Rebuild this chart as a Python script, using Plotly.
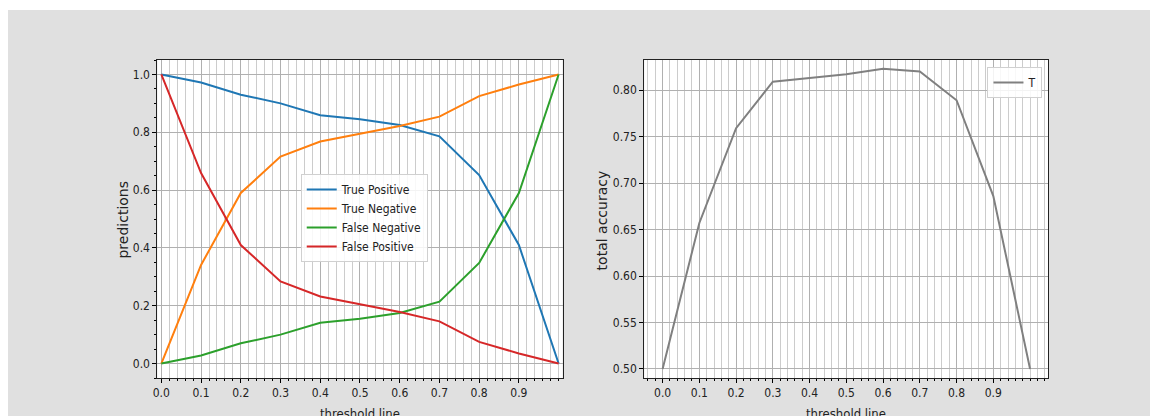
import plotly.graph_objects as go

# ---- data ----
thresholds = [0.0, 0.1, 0.2, 0.3, 0.4, 0.5, 0.6, 0.7, 0.8, 0.9, 1.0]
true_positive = [1.0, 0.972, 0.930, 0.900, 0.859, 0.845, 0.825, 0.786, 0.652, 0.410, 0.0]
true_negative = [0.0, 0.341, 0.590, 0.716, 0.768, 0.794, 0.822, 0.854, 0.925, 0.965, 1.0]
false_negative = [0.0, 0.028, 0.070, 0.100, 0.141, 0.155, 0.175, 0.214, 0.348, 0.590, 1.0]
false_positive = [1.0, 0.659, 0.410, 0.284, 0.232, 0.206, 0.178, 0.146, 0.075, 0.035, 0.0]
total_accuracy = [0.500, 0.657, 0.759, 0.809, 0.813, 0.817, 0.823, 0.820, 0.789, 0.686, 0.500]

x_tick_vals = [0.0, 0.1, 0.2, 0.3, 0.4, 0.5, 0.6, 0.7, 0.8, 0.9]
x_tick_text = ["0.0", "0.1", "0.2", "0.3", "0.4", "0.5", "0.6", "0.7", "0.8", "0.9"]
y1_tick_vals = [0.0, 0.2, 0.4, 0.6, 0.8, 1.0]
y1_tick_text = ["0.0", "0.2", "0.4", "0.6", "0.8", "1.0"]
y2_tick_vals = [0.50, 0.55, 0.60, 0.65, 0.70, 0.75, 0.80]
y2_tick_text = ["0.50", "0.55", "0.60", "0.65", "0.70", "0.75", "0.80"]

# figure sits inside the page body (8px left margin, 10px top margin)
OX, OY = 8, 10
W, H = 1142, 406
FONT = "DejaVu Sans Condensed, DejaVu Sans, sans-serif"
FONT_V = "DejaVu Sans, sans-serif"

def px_x(p):
    return (p - OX) / W

def px_y(p):
    return 1 - (p - OY) / H

fig = go.Figure()
series = [
    ("True Positive", true_positive, "#1f77b4"),
    ("True Negative", true_negative, "#ff7f0e"),
    ("False Negative", false_negative, "#2ca02c"),
    ("False Positive", false_positive, "#d62728"),
]
for name, vals, col in series:
    fig.add_trace(go.Scatter(x=thresholds, y=vals, mode="lines", name=name,
                             line=dict(color=col, width=2), xaxis="x", yaxis="y",
                             legend="legend"))
fig.add_trace(go.Scatter(x=thresholds, y=total_accuracy, mode="lines", name="T",
                         line=dict(color="#808080", width=2), xaxis="x2", yaxis="y2",
                         legend="legend2"))

common_x = dict(
    tickmode="array", tickvals=x_tick_vals, ticktext=x_tick_text,
    ticks="outside", ticklen=4, tickcolor="#000", tickwidth=1,
    showgrid=True, gridcolor="#b0b0b0", gridwidth=1,
    showline=True, linecolor="#222", linewidth=1, mirror=True, zeroline=False,
    tickfont=dict(family=FONT, size=12, color="#222"),
    minor=dict(tickmode="linear", tick0=0, dtick=0.02, ticks="outside", ticklen=2,
               tickcolor="#000", showgrid=True, gridcolor="#cccccc", gridwidth=1),
)
common_y = dict(
    tickmode="array", ticks="outside", ticklen=4, tickcolor="#000", tickwidth=1,
    showgrid=True, gridcolor="#b0b0b0", gridwidth=1,
    showline=True, linecolor="#222", linewidth=1, mirror=True, zeroline=False,
    tickfont=dict(family=FONT, size=12, color="#222"),
)

ydom = [px_y(378), px_y(60)]
fig.update_layout(
    width=W, height=H,
    margin=dict(l=0, r=0, t=0, b=0),
    paper_bgcolor="#e0e0e0", plot_bgcolor="#ffffff",
    font=dict(family=FONT, size=12, color="#222"),
    xaxis=dict(common_x, domain=[px_x(153), px_x(560)], range=[-0.01, 1.01], anchor="y"),
    yaxis=dict(common_y, domain=ydom, range=[-0.05, 1.05], anchor="x",
               tickvals=y1_tick_vals, ticktext=y1_tick_text,
               minor=dict(tickmode="linear", tick0=0, dtick=0.05, ticks="outside",
                          ticklen=2, tickcolor="#000", showgrid=False)),
    xaxis2=dict(common_x, domain=[px_x(642), px_x(1048)], range=[-0.05, 1.05], anchor="y2"),
    yaxis2=dict(common_y, domain=ydom, range=[0.4903, 0.8323], anchor="x2",
                tickvals=y2_tick_vals, ticktext=y2_tick_text),
    legend=dict(x=px_x(297), y=px_y(174), xanchor="left", yanchor="top",
                bgcolor="rgba(255,255,255,0.85)", bordercolor="#d0d0d0", borderwidth=1,
                font=dict(family=FONT, size=12, color="#222")),
    legend2=dict(x=px_x(1042), y=px_y(67), xanchor="right", yanchor="top",
                 bgcolor="rgba(255,255,255,0.85)", bordercolor="#d0d0d0", borderwidth=1,
                 font=dict(family=FONT, size=12, color="#222")),
    showlegend=True,
)

# axis titles
fig.add_annotation(text="predictions", x=px_x(118), y=px_y(220), xref="paper", yref="paper",
                   textangle=-90, showarrow=False, xanchor="center", yanchor="middle",
                   font=dict(family=FONT_V, size=14, color="#222"))
fig.add_annotation(text="total accuracy", x=px_x(600), y=px_y(220), xref="paper", yref="paper",
                   textangle=-90, showarrow=False, xanchor="center", yanchor="middle",
                   font=dict(family=FONT_V, size=14, color="#222"))
fig.add_annotation(text="threshold line", x=px_x(357), y=px_y(404), xref="paper", yref="paper",
                   showarrow=False, xanchor="center", yanchor="top",
                   font=dict(family=FONT, size=13, color="#222"))
fig.add_annotation(text="threshold line", x=px_x(845), y=px_y(404), xref="paper", yref="paper",
                   showarrow=False, xanchor="center", yanchor="top",
                   font=dict(family=FONT, size=13, color="#222"))

fig.write_html(
    "out.html",
    post_script="document.body.style.overflow='hidden';document.body.style.margin='10px 0px 0px 8px';",
)
